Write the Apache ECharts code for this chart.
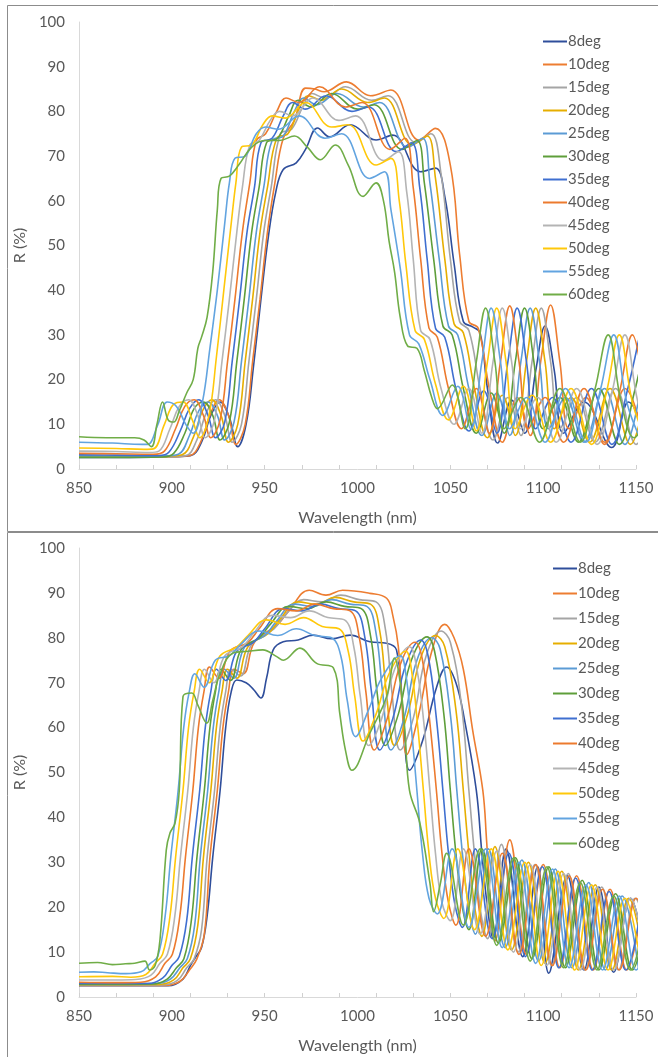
<!DOCTYPE html>
<html>
<head>
<meta charset="utf-8">
<script src="https://cdn.jsdelivr.net/npm/echarts@6/dist/echarts.min.js"></script>
<style>
  html, body { margin: 0; padding: 0; background: #fff; }
  #chart { width: 658px; height: 1057px; }
</style>
</head>
<body>
<div id="chart"></div>
<script>
// legend names, one per incidence angle
var seriesNames = ['8deg', '10deg', '15deg', '20deg', '25deg', '30deg', '35deg', '40deg', '45deg', '50deg', '55deg', '60deg'];
var xTicks = [850, 900, 950, 1000, 1050, 1100, 1150];
var yTicks = [0, 10, 20, 30, 40, 50, 60, 70, 80, 90, 100];

// ---- upper panel: [wavelength nm, R %] ----
var top8 = [[850,2.6],[870,2.6],[895,2.7],[910,3],[916,6],[921,12],[926,15],[931,11.5],[935.5,5],[940,10],[944,23],[948,38],[952,52],[956,62],[960,67],[967,68.5],[972,71.5],[978.5,76.3],[985,74.3],[996,77],[1010,73.6],[1019,74.7],[1034,66.5],[1042,67.3],[1047,61],[1052,46],[1057,33],[1062,31.8],[1066,30.5],[1070,18],[1075.5,5.8],[1083,15.4],[1090,8],[1096,22],[1101,32],[1106,22],[1111,8],[1122,15],[1137,4.8],[1146,15],[1155,8]];
var top10 = [[850,2.8],[870,2.7],[895,2.7],[909.5,3],[915.5,6],[920.5,12],[925.5,15.5],[930.5,12],[934.5,5.5],[939.5,10],[943.5,24],[947.5,38],[951.5,53],[955.5,64],[960,74],[966,78],[972,85.2],[977,85],[982,84.4],[994,86.6],[1007,83.5],[1018,84.8],[1033,73.6],[1042,76.2],[1050,68],[1055,48],[1060,33],[1065,31.5],[1071,18],[1078,6],[1086,16],[1093,7.5],[1099,25],[1104,36.7],[1109,24],[1114,9],[1123,16],[1133,6],[1144,18],[1155,5.5]];
var top15 = [[850,2.8],[870,2.7],[895,2.7],[907.5,3],[913.5,6.5],[918.5,12.5],[923.5,15.5],[928.5,12],[932.5,6],[937.5,10],[941.5,24],[945.5,38],[949.5,53],[953.5,63],[958.5,75],[964.5,76],[970.5,81],[975.5,84],[982.5,83],[993.5,85.5],[1007.5,82.5],[1016.5,83.5],[1031.5,73],[1039.5,75],[1045,66],[1050,47],[1055,33],[1060,31],[1066,18],[1073,6.5],[1081,16],[1088,7.5],[1094,24],[1099,36],[1104,24],[1109,9],[1118,16],[1128,6],[1139,18],[1150,5.5],[1158,17]];
var top20 = [[850,2.9],[870,2.8],[895,2.8],[905.5,3.2],[911.5,7],[916.5,13],[921.5,15.5],[926.5,12],[930.5,6],[935.5,10],[939.5,24],[943.5,38],[947.5,53],[951.5,63],[956.5,74],[962.5,75],[968.5,80.5],[973.5,83.5],[980.5,82.5],[991.5,85],[1005.5,82],[1014.5,83],[1029.5,72.5],[1037.5,74.5],[1042,65],[1047,47],[1052,32.5],[1057,30.5],[1063,18],[1070,7],[1078,16.5],[1085,7.5],[1091,24],[1096,36],[1101,24],[1106,9],[1115,16],[1125,6],[1136,18],[1147,5.5],[1155,17]];
var top25 = [[850,3],[870,2.9],[895,2.9],[903.5,3.3],[909.5,7.5],[914.5,13],[919.5,15],[924.5,12],[928.5,6.5],[933.5,10.5],[937.5,24],[941.5,38],[945.5,53],[949.5,63],[954,73.5],[960,74.5],[966,80],[971,83],[978,81.5],[989,84],[1003,81],[1012,82],[1027,72],[1035,74],[1039,64],[1044,47],[1049,32],[1054,30],[1060,18],[1067,7.5],[1075,17],[1082,7.5],[1088,24],[1093,36],[1098,24],[1103,9],[1112,16],[1122,6],[1133,18],[1144,5.5],[1152,17]];
var top30 = [[850,2.6],[870,2.6],[895,2.7],[901,3.5],[907,8],[912,13.5],[917,15],[922,12],[926,6.5],[931,10.5],[935,24],[939,38],[943,53],[947,63],[951,73],[957,74],[963,79],[968,82.5],[975,81],[986,84],[1000,80.5],[1009,81.5],[1024,71.5],[1032,73.5],[1036,64],[1041,47],[1046,32],[1051,30],[1057,18],[1064,8],[1072,17],[1079,8],[1085,24],[1090,36],[1095,24],[1100,9],[1109,16],[1119,6],[1130,18],[1141,5.5],[1149,17],[1156,30]];
var top35 = [[850,3.2],[870,3.1],[893,3],[898.5,3.8],[904.5,8.5],[909.5,13.5],[914.5,15.5],[919.5,12],[923.5,7],[928.5,10.5],[932.5,24],[936.5,38],[940.5,53],[944.5,63],[948,73],[954,74],[960,79],[965,82],[972,80.5],[983,83.5],[997,80],[1006,81],[1021,71],[1029,73],[1033.5,63],[1037.5,47],[1042,31.5],[1047,29.5],[1053,18],[1060,8.5],[1068,17.5],[1075,8],[1081,24],[1086,36],[1091,24],[1096,9],[1105,16],[1115,6],[1126,18],[1137,5.5],[1145,17],[1152,30]];
var top40 = [[850,3.5],[870,3.4],[890,3.3],[896,4],[902,9],[907,14],[912,15.5],[917,12],[921,7],[926,11],[930,24],[934,38],[938,53],[942,64],[945.5,73.5],[950.5,75],[956.5,80],[961.5,83],[968.5,82],[979.5,85.5],[993.5,81],[1002.5,82],[1017.5,71.5],[1025.5,74],[1030,63],[1034,47],[1038.5,31.5],[1043,29.5],[1049,18],[1056,9],[1064,18],[1071,8],[1077,24],[1082,36.5],[1087,24],[1092,9],[1101,16],[1111,6],[1122,18],[1133,5.5],[1141,17],[1148,30],[1155,15]];
var top45 = [[850,4],[870,3.9],[888,3.7],[893,4],[899,9],[904,14],[909,15.5],[914,12],[918,7],[923,11],[927,24],[931,38],[935,53],[938,63],[942,72.5],[947,73.5],[953,78],[958,80],[965,79],[976,83],[990,78],[999,79],[1014,69],[1022,71],[1026.5,62],[1030,47],[1034,31],[1039,29],[1045,18],[1052,10],[1060,18],[1067,8],[1073,24],[1078,36],[1083,24],[1088,9],[1097,16],[1107,6],[1118,18],[1129,5.5],[1137,17],[1144,30],[1151,15],[1158,7]];
var top50 = [[850,4.7],[870,4.6],[885,4.4],[890,4.5],[896,10],[901,14.5],[906,15],[911,11],[915,7],[920,12],[924,25],[928,40],[932,55],[934.5,64],[937.5,72],[943,72.5],[949,77],[954,79],[961,78.5],[972,82],[986,76.5],[995,77],[1010,68],[1018,69.5],[1022.5,60],[1026,46],[1031,31],[1036,29],[1042,19],[1049,11],[1057,18.5],[1064,8.5],[1070,24],[1075,36],[1080,24],[1085,9],[1094,16.5],[1104,6],[1115,18],[1126,5.5],[1134,17],[1141,30],[1148,15],[1155,7]];
var top55 = [[850,6],[868,5.8],[884,5.5],[887,5.5],[892.5,10],[897.5,15],[902.5,14],[907.5,10],[911.5,8],[916.5,15],[920.5,27],[924.5,40],[928.5,55],[931,64],[934,69.5],[939.5,70],[945.5,75],[950.5,76.5],[957.5,76],[968.5,79],[982.5,74],[991.5,75],[1006.5,65],[1014.5,66.5],[1018,58],[1023,45],[1028,30],[1033,28],[1039,20],[1046,12],[1054,18.5],[1061,9],[1067,24],[1072,36],[1077,24],[1082,9],[1091,16],[1101,6],[1112,18],[1123,6],[1131,18],[1138,30],[1145,15],[1152,7]];
var top60 = [[850,7.2],[865,7],[880,7],[885,6.5],[889,5],[892,10],[895,15],[898,11],[901,10.5],[904,13],[908,17],[911.5,20],[914,27],[916,29.5],[919,34],[922,44],[924.5,58],[926.5,65],[931,65.5],[936,68],[943,72],[950,73.5],[958,73.5],[966,74.5],[973,72],[980,69.2],[988,72.5],[995,68],[1003,61],[1010,64],[1014,60],[1017,51],[1020,44],[1023,34],[1027,27.5],[1032,27],[1036,22],[1040,16],[1043,13.5],[1051,18.8],[1058,9],[1064,24],[1069,36],[1074,24],[1079,9],[1088,16],[1098,6],[1109,18],[1120,6],[1128,18],[1135,30],[1142,15],[1149,7],[1156,12]];

// ---- lower panel ----
var bot8 = [[850,2.5],[870,2.5],[898,2.5],[906,4],[910,7],[913,9],[916,11],[919,18],[922,31],[926,46],[929,60],[932,68],[935,70.6],[940,70],[944,68.5],[948,66.6],[951,71],[954.6,77.3],[960,79.1],[968,79.5],[976,80.6],[986,79.8],[996,80.6],[1006.7,79.1],[1015.7,78.8],[1021,77.3],[1024.6,63],[1028,50.5],[1035,57],[1042.6,69],[1048,73.5],[1053,70],[1057.5,62],[1064,46],[1067,32],[1070,20],[1073,13],[1080,33],[1089,9],[1097,29],[1103,5.3],[1113,27],[1122,6],[1130,24.5],[1138,5.5],[1147,22],[1156,6]];
var bot10 = [[850,2.6],[870,2.6],[896.5,2.6],[904.5,3.5],[909.5,6],[913.5,8.5],[917.5,14],[920.5,31],[924.5,46],[927.5,60],[930.5,68],[933.5,73],[938.5,72],[944.5,79],[957,83],[963,86],[974,90.6],[983,89.5],[992,90.6],[1006.7,89.9],[1015.7,88.8],[1019,85],[1022,78],[1024,65],[1026.5,54],[1033,63],[1040,77],[1047,83],[1052,80],[1057,73],[1062,59.5],[1067.5,46],[1069.5,35],[1071.5,22],[1074,12.5],[1082,35],[1091,9.5],[1100,29.5],[1109,6.5],[1118,27],[1127,6],[1136,24],[1145,6],[1154,22]];
var bot15 = [[850,2.7],[870,2.7],[895,2.7],[903,3.7],[908,6.5],[912,8.5],[916,15],[919,31],[923,46],[926,60],[929,68],[932,73],[937,71.5],[943,78.5],[955,82],[961,85],[971,88.5],[981,88],[991,89.5],[1001,88.5],[1010,88],[1015,82],[1018.5,68],[1023,55],[1030,62],[1037,76],[1045,81.5],[1050,79],[1056,65],[1060,46],[1063,32],[1066.5,18.5],[1070,13],[1077.5,34],[1086.5,10],[1095.5,29.5],[1104.5,7],[1113.5,27.5],[1122.5,6],[1131.5,24.5],[1140.5,6],[1149.5,22],[1158.5,6]];
var bot20 = [[850,2.8],[870,2.8],[893,2.8],[901,3.8],[906,6.5],[910,8.5],[914,16],[917,31],[921,46],[924,60],[927,68],[930,73],[935,71],[941,78],[952,81],[958,84],[968,88],[978,87.5],[988,89],[998,88],[1007,87.5],[1012,81.5],[1015.5,68],[1020,56],[1027,63],[1034,75.5],[1042,80.5],[1047,78],[1053,64],[1057,46],[1060,32],[1063.5,19],[1067,13.5],[1074,33.5],[1083,10.5],[1092,30],[1101,7.5],[1110,28],[1119,6],[1128,25],[1137,6],[1146,22],[1155,6]];
var bot25 = [[850,3],[870,3],[891.3,3],[899.3,4],[904.3,6.5],[908.3,8.5],[912.3,16],[915.3,31],[919.3,46],[922.3,60],[925.3,68],[928.3,73],[933.3,71],[939.3,78],[950,80.5],[956,83.5],[966,87.5],[976,87],[986,88.5],[996,87.5],[1005,87],[1010,81],[1013.5,68],[1018,55],[1025,62],[1032,75],[1040,80],[1044.5,77.5],[1050,63],[1053.5,46],[1056.5,32],[1060,19.5],[1063.5,14],[1070.5,33],[1079.5,11],[1088.5,30.5],[1097.5,8],[1106.5,28.5],[1115.5,6.5],[1124.5,25.5],[1133.5,6],[1142.5,22.5],[1151.5,6]];
var bot30 = [[850,2.8],[870,2.8],[889.5,2.9],[897.5,4],[902.5,6.5],[906.5,8.5],[910.5,17],[913.5,31],[917.5,46],[920.5,60],[923.5,68],[926.5,73],[931.5,70.5],[937.5,77.5],[947,80],[953,83],[963,87],[973,86.5],[983,88],[993,87],[1002,86.5],[1007,80.5],[1010.5,68],[1015,56],[1022,63],[1029,75],[1037.5,80.2],[1041.5,77],[1046.5,63],[1050,46],[1053,32],[1056.5,20],[1060,15],[1067,33],[1076,12],[1085,31],[1094,8.5],[1103,29],[1112,6.5],[1121,26],[1130,6],[1139,23],[1148,6],[1157,21.5]];
var bot35 = [[850,3],[870,3],[887,3],[895,4.2],[900,7],[904,9],[908,17],[911,31],[915,46],[918,60],[921,68],[924,73],[929,70.5],[935,77],[944,79],[950,82],[960,86.5],[970,86],[980,87.5],[990,86.5],[999,86],[1004,80],[1007.5,68],[1012,55],[1019,62],[1026,74],[1034,79.5],[1038,76],[1042.5,62],[1046,46],[1049,32],[1052.5,20.5],[1056.5,15.5],[1063.5,33],[1072.5,13],[1081.5,32],[1090.5,9],[1099.5,29],[1108.5,6.5],[1117.5,26.5],[1126.5,6],[1135.5,23.5],[1144.5,6],[1153.5,22]];
var bot40 = [[850,3.3],[870,3.2],[883.3,3.3],[891.3,4.5],[896.3,7.5],[900.3,9.5],[904.3,18],[907.3,31],[911.3,46],[914.3,60],[917.3,68],[920.3,73.5],[925.3,71],[931.3,77],[941,79],[947,82],[957,86.5],[967,86],[977,87.5],[987,86.5],[996,86],[1001,80],[1004.5,68],[1009,55],[1016,62],[1023,74],[1031,79],[1035,75],[1039,61],[1042.5,46],[1045.5,32],[1049,21],[1053,16],[1060,33],[1069,13.5],[1078,32],[1087,9.5],[1096,29.5],[1105,7],[1114,27],[1123,6],[1132,24],[1141,6],[1150,22],[1159,6]];
var bot45 = [[850,3.8],[870,3.8],[880.6,3.9],[888.6,4.8],[893.6,7.5],[897.6,9.5],[901.6,18],[904.6,31],[908.6,46],[911.6,60],[914.6,68],[917.6,73],[922.6,70],[928.6,76],[938,78],[944,81],[954,85],[964,84.5],[974,86],[984,84.5],[993,84],[998,78],[1001.5,67],[1006,56],[1013,62],[1020,73],[1028,78],[1032,73],[1036,60],[1039,46],[1042,32],[1045.5,21],[1050,17],[1057,33],[1066,14],[1075,32.5],[1084,10],[1093,29.5],[1102,7],[1111,27.5],[1120,6],[1129,24.5],[1138,6],[1147,22],[1156,6]];
var bot50 = [[850,4.5],[868,4.6],[878,4.4],[886,5],[891,7.5],[895,9.5],[899,18],[902,31],[906,46],[909,60],[912,68],[915,73],[920,70],[926,76],[935,78],[941,80.5],[951,84],[961,83],[971,84.5],[981,82.5],[990,82],[995,77],[998.5,67],[1003,57],[1010,63],[1017,72],[1026,77],[1029,73],[1032.5,60],[1035.5,46],[1038.5,32],[1042,22],[1046.5,17.5],[1054,33],[1063,15],[1072,33],[1081,10.5],[1090,30],[1099,7],[1108,28],[1117,6],[1126,25],[1135,6],[1144,22],[1153,6]];
var bot55 = [[850,5.5],[858,5.6],[865.4,5.4],[875.4,5.2],[883.4,5.6],[888.4,7.5],[892.4,9],[896.4,18],[899.4,31],[903.4,46],[906.4,60],[909.4,68],[912.4,72],[917.4,69],[923.4,75],[931,76],[937,78.5],[947,81.5],[957,80.5],[967,82],[977,80.5],[986,80],[991,76],[994.5,66],[999,58],[1006,64],[1013,71],[1023,76],[1026,72],[1029,60],[1032,46],[1035,32],[1038.5,22],[1043,18.5],[1051,33],[1060,15.5],[1069,33],[1078,11],[1087,30],[1096,7.5],[1105,28.5],[1114,6.5],[1123,25],[1132,6],[1141,22.5],[1150,6],[1159,21]];
var bot60 = [[850,7.5],[860,7.7],[868,7.2],[875,7.4],[880,7.5],[885.5,8],[888,6],[891,7],[893.6,12.7],[897,32.7],[899,36.5],[901.7,38.7],[904,46],[906,66.9],[910.7,67.7],[914,65],[918.8,61],[922,66],[926,72],[933,76.6],[941,77],[949,77.3],[956.5,75.8],[960,75],[969,77.7],[978,74.3],[987,73.3],[990.5,63],[993.5,55],[997,50.5],[1006.7,58.8],[1015.7,66.9],[1020,75.5],[1023,70],[1025.5,59.5],[1028,46],[1033.6,38.7],[1039,25.4],[1041,19],[1044.5,25],[1048,32],[1057,16],[1066,33],[1075,11.5],[1084,31],[1093,8],[1102,29],[1111,6.5],[1120,25.5],[1129,6],[1138,22.5],[1147,6],[1156,21]];

var topSets = [top8, top10, top15, top20, top25, top30, top35, top40, top45, top50, top55, top60];
var botSets = [bot8, bot10, bot15, bot20, bot25, bot30, bot35, bot40, bot45, bot50, bot55, bot60];

var colors = ['#2f4e9b', '#ed7d31', '#a5a5a5', '#e6ae00', '#5b9bd5', '#5e9e3a',
              '#3f6fd0', '#ec7a2e', '#b4b4b4', '#ffc80a', '#62a4e0', '#70ad47'];

var chart = echarts.init(document.getElementById('chart'));
var font = 'Lato, "Open Sans", sans-serif';
var txt = '#595959';

function xAxisFor(i) {
  return {
    type: 'value', gridIndex: i, min: 850, max: 1150, interval: 50, position: 'bottom',
    name: 'Wavelength (nm)', nameLocation: 'middle', nameGap: 41,
    nameTextStyle: { fontSize: 16, color: txt, fontFamily: font },
    axisLine: { lineStyle: { color: '#d9d9d9' } },
    axisTick: { show: false },
    splitLine: { show: false },
    axisLabel: { fontSize: 15, color: txt, fontFamily: font, margin: 12,
      formatter: function (v) { return xTicks.indexOf(v) >= 0 ? String(v) : ''; } }
  };
}
// small tick marks every 20 nm along the bottom axis
function tickAxisFor(i) {
  return {
    type: 'value', gridIndex: i, min: 850, max: 1150, interval: 20, position: 'bottom', offset: 0,
    axisLine: { show: false }, axisLabel: { show: false }, splitLine: { show: false },
    axisTick: { show: true, inside: true, length: 4, lineStyle: { color: '#d0d0d0' } }
  };
}
function yAxisFor(i) {
  return {
    type: 'value', gridIndex: i, min: 0, max: 100, interval: 10,
    name: 'R (%)', nameLocation: 'middle', nameGap: 33,
    nameTextStyle: { fontSize: 16, color: txt, fontFamily: font },
    axisLine: { show: true, lineStyle: { color: '#d9d9d9' } },
    axisTick: { show: false },
    splitLine: { show: false },
    axisLabel: { fontSize: 15, color: txt, fontFamily: font, margin: 14,
      formatter: function (v) { return yTicks.indexOf(v) >= 0 ? String(v) : ''; } }
  };
}
function legendFor(top, left, gap) {
  return {
    orient: 'vertical', top: top, left: left, icon: 'rect', itemWidth: 24, itemHeight: 2, itemGap: gap,
    data: seriesNames, selectedMode: false,
    textStyle: { fontSize: 15, color: txt, fontFamily: font, lineHeight: 15, padding: [0, 0, 0, -4] }
  };
}

var series = [];
seriesNames.forEach(function (name, k) {
  series.push({
    name: name, type: 'line', xAxisIndex: 0, yAxisIndex: 0, data: topSets[k],
    symbol: 'none', smooth: 0.4, color: colors[k], lineStyle: { width: 1.6 }, silent: true
  });
});
seriesNames.forEach(function (name, k) {
  series.push({
    name: name, type: 'line', xAxisIndex: 1, yAxisIndex: 1, data: botSets[k],
    symbol: 'none', smooth: 0.4, color: colors[k], lineStyle: { width: 1.6 }, silent: true
  });
});

chart.setOption({
  animation: false,
  backgroundColor: '#fff',
  grid: [
    { left: 79, right: 22, top: 22, height: 447 },
    { left: 79, right: 22, top: 548, height: 449 }
  ],
  xAxis: [xAxisFor(0), xAxisFor(1), tickAxisFor(0), tickAxisFor(1)],
  yAxis: [yAxisFor(0), yAxisFor(1)],
  legend: [legendFor(29, 538, 8), legendFor(556, 548, 10)],
  graphic: [
    { type: 'rect', shape: { x: 7.5, y: 5.5, width: 700, height: 526 }, style: { fill: 'none', stroke: '#8c8c8c', lineWidth: 1 }, silent: true },
    { type: 'rect', shape: { x: 7.5, y: 532.5, width: 700, height: 600 }, style: { fill: 'none', stroke: '#8c8c8c', lineWidth: 1 }, silent: true }
  ],
  series: series
});
</script>
</body>
</html>
